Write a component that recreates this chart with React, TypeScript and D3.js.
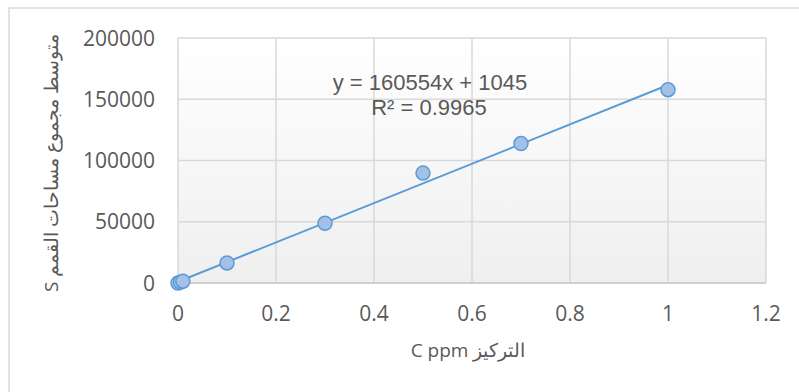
import React from 'react'
import * as d3 from 'd3'

// concentration (ppm) and mean summed peak area
const concentrations = [0, 0.005, 0.01, 0.1, 0.3, 0.5, 0.7, 1]
const peakAreas = [0, 700, 1500, 16400, 48800, 89700, 113800, 157800]

const xTicks = [0, 0.2, 0.4, 0.6, 0.8, 1, 1.2]
const yTicks = [0, 50000, 100000, 150000, 200000]

const slope = 160554
const intercept = 1045
const trendRange = [0, 1]

const W = 799
const H = 392
const plot = { left: 178, top: 38, right: 766, bottom: 283 }

export default function App() {
  const x = d3.scaleLinear().domain([0, 1.2]).range([plot.left, plot.right])
  const y = d3.scaleLinear().domain([0, 200000]).range([plot.bottom, plot.top])

  const trend = d3.line<number>()
    .x(d => x(d))
    .y(d => y(slope * d + intercept))

  const pts = concentrations.map((c, i) => ({ c, v: peakAreas[i] }))
  const tickFont = '"Open Sans", sans-serif'
  const eqFont = '"Liberation Sans", Arial, sans-serif'

  return (
    <svg width={W} height={H} style={{ position: 'absolute', left: 0, top: 0 }}>
      <defs>
        <linearGradient id="bg" x1="0" y1="0" x2="0" y2="1">
          <stop offset="0" stopColor="#ffffff" />
          <stop offset="1" stopColor="#efefef" />
        </linearGradient>
      </defs>
      <rect x={0} y={0} width={W} height={H} fill="#fff" />
      <rect x={9} y={8} width={W} height={H} fill="#fff" stroke="#d9d9d9" strokeWidth={1.5} />

      <rect x={plot.left} y={plot.top} width={plot.right - plot.left} height={plot.bottom - plot.top} fill="url(#bg)" />

      {xTicks.map(t => (
        <line key={'gx' + t} x1={x(t)} x2={x(t)} y1={plot.top} y2={plot.bottom} stroke="#d9d9d9" strokeWidth={1.5} />
      ))}
      {yTicks.map(t => (
        <line key={'gy' + t} x1={plot.left} x2={plot.right} y1={y(t)} y2={y(t)} stroke="#d9d9d9" strokeWidth={1.5} />
      ))}
      <line x1={plot.left} x2={plot.right} y1={plot.bottom} y2={plot.bottom} stroke="#c8c8c8" strokeWidth={1.5} />

      {yTicks.map(t => (
        <text key={'ty' + t} x={155} y={y(t)} dy="0.36em" textAnchor="end" fontFamily={tickFont} fontSize={21} fill="#595959">
          {t}
        </text>
      ))}
      {xTicks.map(t => (
        <text key={'tx' + t} x={x(t)} y={321} textAnchor="middle" fontFamily={tickFont} fontSize={21} fill="#595959">
          {d3.format('~g')(t)}
        </text>
      ))}

      <path d={trend(trendRange) || ''} fill="none" stroke="#5b9bd5" strokeWidth={2} />

      {pts.map(p => (
        <circle key={p.c} cx={x(p.c)} cy={y(p.v)} r={7} fill="#a4c0e6" stroke="#5b9bd5" strokeWidth={1.5} />
      ))}

      <text x={430} y={90} textAnchor="middle" fontFamily={eqFont} fontSize={22} fill="#595959">
        y = 160554x + 1045
      </text>
      <text x={429} y={115} textAnchor="middle" fontFamily={eqFont} fontSize={22} fill="#595959">
        R² = 0.9965
      </text>

      <text x={468} y={357} textAnchor="middle" direction="rtl" fontFamily={tickFont} fontSize={19} fill="#595959">
        التركيز C ppm
      </text>
      <text transform="translate(58,163) rotate(-90)" textAnchor="middle" direction="rtl" fontFamily={tickFont} fontSize={19} fill="#595959">
        متوسط مجموع مساحات القمم S
      </text>
    </svg>
  )
}
